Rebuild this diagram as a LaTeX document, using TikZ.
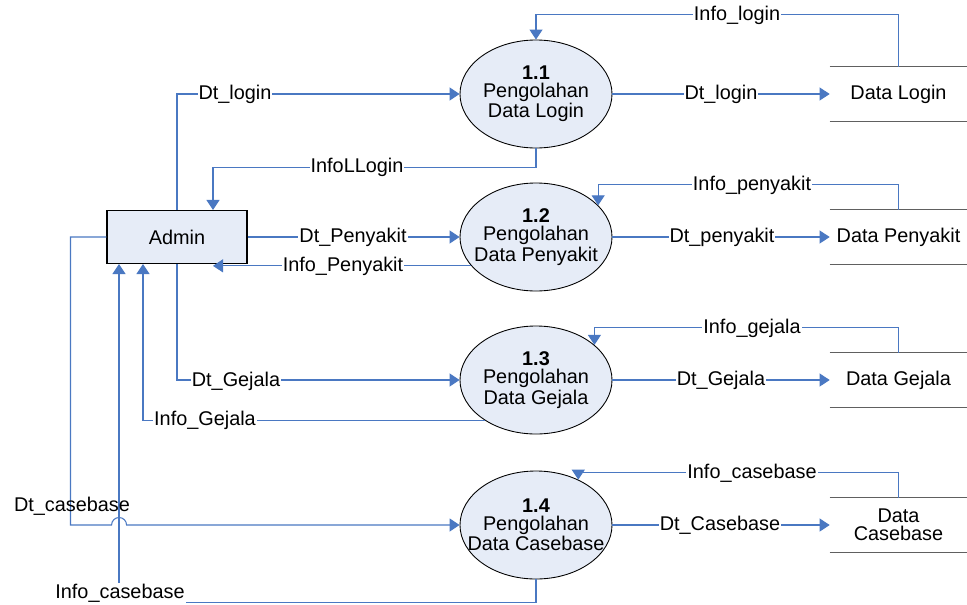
\documentclass[tikz,border=0pt]{standalone}
\usepackage{fontspec}
\setmainfont{Liberation Sans}
\usepackage{tikz}
\usetikzlibrary{arrows.meta,positioning,calc,shapes.geometric}
\definecolor{dfdblue}{RGB}{74,120,194}
\definecolor{dfdfill}{RGB}{230,236,247}
\definecolor{dfdgray}{RGB}{96,96,96}

\begin{document}
\begin{tikzpicture}[x=0.2mm,y=-0.2mm,font=\fontsize{11.3}{10.3}\selectfont,
  proc/.style={ellipse,draw=black,line width=0.5pt,fill=dfdfill,minimum width=30.4mm,minimum height=21.6mm,inner sep=-10pt,align=center},
  ent/.style={rectangle,draw=black,line width=0.6pt,fill=dfdfill,minimum width=28mm,minimum height=10.6mm},
  store/.style={minimum width=27.4mm,minimum height=10.8mm,inner sep=0pt,align=center},
  storeline/.style={dfdgray,line width=0.9pt},
  flow/.style={dfdblue,line width=0.6pt,-{Triangle[length=2mm,width=2.6mm]}},
  lbl/.style={fill=white,inner sep=0.6pt}]
\useasboundingbox (0,0) rectangle (967,604);
% ---------------- entity and processes ----------------
\node[ent] (adm) at (177,237) {Admin};
\node[proc] (p1) at (536,94) {\textbf{1.1}\\Pengolahan\\Data Login};
\node[proc] (p2) at (536,237) {\textbf{1.2}\\Pengolahan\\Data Penyakit};
\node[proc] (p3) at (536,380) {\textbf{1.3}\\Pengolahan\\Data Gejala};
\node[proc] (p4) at (536,525) {\textbf{1.4}\\Pengolahan\\Data Casebase};
% ---------------- data stores ----------------
\node[store] (ds1) at (898.5,94) {Data Login};
\node[store] (ds2) at (898.5,237) {Data Penyakit};
\node[store] (ds3) at (898.5,380) {Data Gejala};
\node[store] (ds4) at (898.5,525) {Data\\Casebase};
\foreach \s in {ds1,ds2,ds3,ds4}{
  \draw[storeline] (\s.north west) -- (\s.north east);
  \draw[storeline] (\s.south west) -- (\s.south east);}
% ---------------- flows of 1.1 ----------------
\draw[flow] (ds1.north) -- ++(0,-52) -| (p1.north);
\draw[flow] (adm.north) |- (p1.west);
\draw[flow] (p1.east) -- (ds1.west);
\draw[flow] (p1.south) -- ++(0,19) -| ($(adm.north)+(36,0)$);
% ---------------- flows of 1.2 ----------------
\coordinate (a2) at ($(adm.south)+(36,0)$);
\draw[flow] (adm.east) -- (p2.west);
\draw[flow] (p2.204) -- (p2.204 -| a2);
\draw[flow] (p2.east) -- (ds2.west);
\draw[flow] (ds2.north) -- ++(0,-25) -| (p2.27);
% ---------------- flows of 1.3 ----------------
\draw[flow] (adm.south) |- (p3.west);
\draw[flow] (p3.218) -| ($(adm.south)+(-34,0)$);
\draw[flow] (p3.east) -- (ds3.west);
\draw[flow] (ds3.north) -- ++(0,-25) -| (p3.31);
% ---------------- flows of 1.4 ----------------
\draw[flow] (adm.west) -- ++(-36,0) |- ($(p4.west)+(-348,0)$)
  arc[start angle=180,end angle=360,radius=7.5] -- (p4.west);
\draw[flow] (p4.south) -- ++(0,23) -| ($(adm.south)+(-58,0)$);
\draw[flow] (p4.east) -- (ds4.west);
\draw[flow] (ds4.north) -- ++(0,-25) -| (p4.47);
% ---------------- labels ----------------
\node[lbl] (l11a) at (737,15) {Info\_login};
\node[lbl] (l11b) at (235,94) {Dt\_login};
\node[lbl] (l11c) at (721,94) {Dt\_login};
\node[lbl] (l11d) at (357,167) {InfoLLogin};
\node[lbl] (l12a) at (353,237) {Dt\_Penyakit};
\node[lbl] (l12b) at (343,266) {Info\_Penyakit};
\node[lbl] (l12c) at (722,237) {Dt\_penyakit};
\node[lbl] (l12d) at (752,185) {Info\_penyakit};
\node[lbl] (l13a) at (236,381) {Dt\_Gejala};
\node[lbl] (l13b) at (205,420) {Info\_Gejala};
\node[lbl] (l13c) at (721,380) {Dt\_Gejala};
\node[lbl] (l13d) at (752,328) {Info\_gejala};
\node[lbl,fill=none] (l14a) at (72,506) {Dt\_casebase};
\node[lbl] (l14b) at (120,593) {Info\_casebase};
\node[lbl] (l14c) at (720,525) {Dt\_Casebase};
\node[lbl] (l14d) at (752,473) {Info\_casebase};
\end{tikzpicture}
\end{document}
